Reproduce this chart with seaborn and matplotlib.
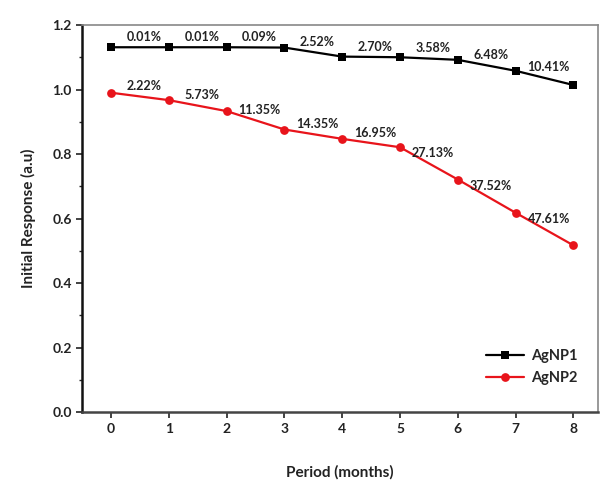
import numpy as np
import pandas as pd
import matplotlib
matplotlib.use("Agg")
import matplotlib.pyplot as plt
import seaborn as sns
from matplotlib.ticker import MultipleLocator

months = [0, 1, 2, 3, 4, 5, 6, 7, 8]
agnp1 = [1.131, 1.131, 1.131, 1.130, 1.102, 1.100, 1.092, 1.058, 1.014]
agnp2 = [0.990, 0.967, 0.933, 0.876, 0.847, 0.821, 0.721, 0.618, 0.517]
agnp1_labels = ["0.01%", "0.01%", "0.09%", "2.52%", "2.70%", "3.58%", "6.48%", "10.41%"]
agnp2_labels = ["2.22%", "5.73%", "11.35%", "14.35%", "16.95%", "27.13%", "37.52%", "47.61%"]
series_names = ["AgNP1", "AgNP2"]
colors = {"AgNP1": "#000000", "AgNP2": "#e8141b"}

df = pd.DataFrame({
    "month": months * 2,
    "value": agnp1 + agnp2,
    "series": ["AgNP1"] * len(months) + ["AgNP2"] * len(months),
})

sns.set_style("white")
plt.rcParams["font.family"] = ["Lato", "DejaVu Sans"]
plt.rcParams["font.weight"] = "bold"

fig = plt.figure(figsize=(6, 4.9), dpi=100)
ax = fig.add_axes([0.137, 0.159, 0.860, 0.790])

sns.lineplot(data=df, x="month", y="value", hue="series", style="series",
             palette=colors, markers={"AgNP1": "s", "AgNP2": "o"}, dashes=False,
             markersize=6.3, linewidth=1.6, markeredgewidth=0, ax=ax)

for vals, labs in ((agnp1, agnp1_labels), (agnp2, agnp2_labels)):
    for i, lab in enumerate(labs):
        xm = months[i] + 0.5
        ym = (vals[i] + vals[i + 1]) / 2
        ax.annotate(lab, (xm, ym), xytext=(3, 7.5), textcoords="offset points",
                    ha="center", va="center", fontsize=9, fontweight="bold",
                    color="#222222")

ax.set_xlim(-0.5, 8.43)
ax.set_ylim(0, 1.2)
ax.set_xticks(months)
ax.yaxis.set_major_locator(MultipleLocator(0.2))
ax.yaxis.set_minor_locator(MultipleLocator(0.1))
ax.yaxis.set_major_formatter(matplotlib.ticker.FormatStrFormatter("%.1f"))
ax.tick_params(axis="both", which="major", direction="out", length=4, width=1.2,
               labelsize=10, colors="#222222", left=True, bottom=True)
ax.tick_params(axis="y", which="minor", direction="out", length=2.5, width=1, left=True)
for lbl in ax.get_xticklabels() + ax.get_yticklabels():
    lbl.set_fontweight("bold")

ax.set_xlabel("Period (months)", fontsize=11, fontweight="bold", labelpad=22, color="#222222")
ax.set_ylabel("Initial Response (a.u)", fontsize=11, fontweight="bold", labelpad=12, color="#222222")

ax.spines["left"].set_color("#111111")
ax.spines["left"].set_linewidth(1.8)
ax.spines["bottom"].set_color("#444444")
ax.spines["bottom"].set_linewidth(1.8)
ax.spines["top"].set_color("#888888")
ax.spines["top"].set_linewidth(1.2)
ax.spines["right"].set_color("#888888")
ax.spines["right"].set_linewidth(1.2)

leg = ax.legend(loc="lower right", bbox_to_anchor=(0.985, 0.035), frameon=False,
                fontsize=10.5, handlelength=2.6, labelspacing=0.55, handletextpad=0.5)
for t in leg.get_texts():
    t.set_fontweight("bold")

fig.savefig("out.png", dpi=100)
